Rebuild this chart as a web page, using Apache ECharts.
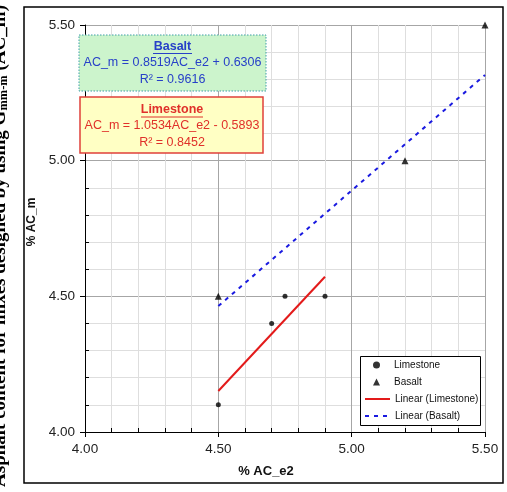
<!DOCTYPE html>
<html>
<head>
<meta charset="utf-8">
<script src="https://cdn.jsdelivr.net/npm/echarts@6/dist/echarts.min.js"></script>
<style>
html,body{margin:0;padding:0;background:#fff;}
#c{width:507px;height:492px;}
</style>
</head>
<body>
<div id="c"></div>
<script>
// ---- data ----
var limestoneX = [4.5, 4.7, 4.75, 4.9];
var limestoneY = [4.1, 4.4, 4.5, 4.5];
var basaltX = [4.5, 5.2, 5.5];
var basaltY = [4.5, 5.0, 5.5];
// trendline end points
var limeTrendX = [4.5, 4.9];
var limeTrendY = [4.151, 4.572];
var basTrendX = [4.5, 5.5];
var basTrendY = [4.464, 5.316];
var seriesNames = ['Limestone', 'Basalt', 'Linear (Limestone)', 'Linear (Basalt)'];
var axisMin = 4.0, axisMax = 5.5, axisStep = 0.5;
var xName = '% AC_e2';
var yName = '% AC_m';
var basaltEq = 'AC_m = 0.8519AC_e2 + 0.6306';
var basaltR2 = 'R² = 0.9616';
var limeEq = 'AC_m = 1.0534AC_e2 - 0.5893';
var limeR2 = 'R² = 0.8452';
var outerTitle = ['Asphalt content for mixes designed by using G', 'mm-m', ' (AC_m)'];

function zip(xs, ys){ return xs.map(function(x,i){ return [x, ys[i]]; }); }

var chart = echarts.init(document.getElementById('c'), null, {renderer:'canvas'});
var FONT = 'Arial, "Liberation Sans", sans-serif';

function axisCommon(){
  return {
    type:'value', min:axisMin, max:axisMax, interval:axisStep,
    axisLine:{show:true, onZero:false, lineStyle:{color:'#000', width:1}},
    axisTick:{show:true, length:5, lineStyle:{color:'#000'}},
    minorTick:{show:true, splitNumber:5, length:-4, lineStyle:{color:'#000'}},
    splitLine:{show:true, lineStyle:{color:'#a6a6a6', width:1}},
    minorSplitLine:{show:true, lineStyle:{color:'#dedede', width:1}},
    axisLabel:{color:'#222', fontSize:13.5, fontFamily:FONT, margin:10,
      formatter:function(v){ return v.toFixed(2); }}
  };
}

var xa = axisCommon();
xa.name = xName; xa.nameLocation='middle'; xa.nameGap=33;
xa.nameTextStyle = {fontWeight:'bold', fontSize:13, fontFamily:FONT, color:'#111', padding:[0,38,0,0]};
var ya = axisCommon();
ya.name = yName; ya.nameLocation='middle'; ya.nameGap=41;
ya.nameTextStyle = {fontWeight:'bold', fontSize:12, fontFamily:FONT, color:'#111', padding:[0,0,0,13]};

var legendText = {fontSize:10, fontFamily:FONT, color:'#111', lineHeight:12};
var hidden = {color:'rgba(0,0,0,0)', borderWidth:0, opacity:0};

var option = {
  animation:false,
  backgroundColor:'#fff',
  grid:{left:85, right:22, top:25, bottom:60, containLabel:false},
  xAxis: xa,
  yAxis: ya,
  legend:[
    {
      orient:'vertical', left:373, top:359, padding:0, itemGap:5,
      itemWidth:7, itemHeight:7, z:6,
      textStyle:{fontSize:10, fontFamily:FONT, color:'#111', lineHeight:12, padding:[0,0,0,9]},
      data:[seriesNames[0], seriesNames[1]]
    },
    {
      orient:'vertical', left:364, top:393, padding:0, itemGap:5,
      itemWidth:25, itemHeight:6, z:6,
      textStyle:legendText,
      data:[{name:seriesNames[2], itemStyle:hidden}, {name:seriesNames[3], itemStyle:hidden}]
    }
  ],
  series:[
    {name:seriesNames[0], type:'scatter', data:zip(limestoneX, limestoneY),
     symbol:'circle', symbolSize:5, itemStyle:{color:'#000'}, z:5},
    {name:seriesNames[1], type:'scatter', data:zip(basaltX, basaltY),
     symbol:'triangle', symbolSize:7, itemStyle:{color:'#000'}, z:5},
    {name:seriesNames[2], type:'line', data:zip(limeTrendX, limeTrendY),
     showSymbol:false, symbol:'none', itemStyle:{color:'#e31a1a'},
     lineStyle:{color:'#e31a1a', width:2}, z:4},
    {name:seriesNames[3], type:'line', data:zip(basTrendX, basTrendY),
     showSymbol:false, symbol:'none', itemStyle:{color:'#1a1ae0'},
     lineStyle:{color:'#1a1ae0', width:2, type:[4,5]}, z:4}
  ],
  graphic:[
    {type:'rect', shape:{x:24, y:7, width:479, height:476},
     style:{fill:'none', stroke:'#000', lineWidth:1.5}, z:1, silent:true},
    {type:'rect', shape:{x:360.5, y:356.5, width:120, height:69},
     style:{fill:'#fff', stroke:'#000', lineWidth:1}, z:3, silent:true},
    {type:'text', x:0, y:246, rotation:Math.PI/2,
     style:{
       text:'{a|'+outerTitle[0]+'}{s|'+outerTitle[1]+'}{a|'+outerTitle[2]+'}',
       align:'center', verticalAlign:'middle',
       rich:{
         a:{font:'bold 19px "Liberation Serif", "Times New Roman", serif', fill:'#000'},
         s:{font:'bold 12.5px "Liberation Serif", "Times New Roman", serif', fill:'#000', padding:[7,0,0,0]}
       }
     }, z:10},
    // Basalt box
    {type:'rect', shape:{x:79, y:35, width:187, height:56},
     style:{fill:'#ccf4cc', stroke:'#3f9fa8', lineWidth:1, lineDash:[1.5,1.5]}, z:20},
    {type:'text', x:172.5, y:46.5, style:{text:'Basalt', font:'bold 12.5px '+FONT, fill:'#2740c8', align:'center', verticalAlign:'middle'}, z:21},
    {type:'line', shape:{x1:153, y1:53.5, x2:192, y2:53.5}, style:{stroke:'#2740c8', lineWidth:1}, z:21},
    {type:'text', x:172.5, y:62.5, style:{text:basaltEq, font:'12.5px '+FONT, fill:'#2740c8', align:'center', verticalAlign:'middle'}, z:21},
    {type:'text', x:172.5, y:80, style:{text:basaltR2, font:'12.5px '+FONT, fill:'#2740c8', align:'center', verticalAlign:'middle'}, z:21},
    // Limestone box
    {type:'rect', shape:{x:80, y:97, width:183, height:56},
     style:{fill:'#ffffc4', stroke:'#e0403a', lineWidth:1.5}, z:20},
    {type:'text', x:172, y:110, style:{text:'Limestone', font:'bold 12.5px '+FONT, fill:'#e0302a', align:'center', verticalAlign:'middle'}, z:21},
    {type:'line', shape:{x1:141, y1:117, x2:203, y2:117}, style:{stroke:'#e0302a', lineWidth:1}, z:21},
    {type:'text', x:172, y:126, style:{text:limeEq, font:'12.5px '+FONT, fill:'#e0302a', align:'center', verticalAlign:'middle'}, z:21},
    {type:'text', x:172, y:143, style:{text:limeR2, font:'12.5px '+FONT, fill:'#e0302a', align:'center', verticalAlign:'middle'}, z:21}
  ]
};
chart.setOption(option);
</script>
</body>
</html>
